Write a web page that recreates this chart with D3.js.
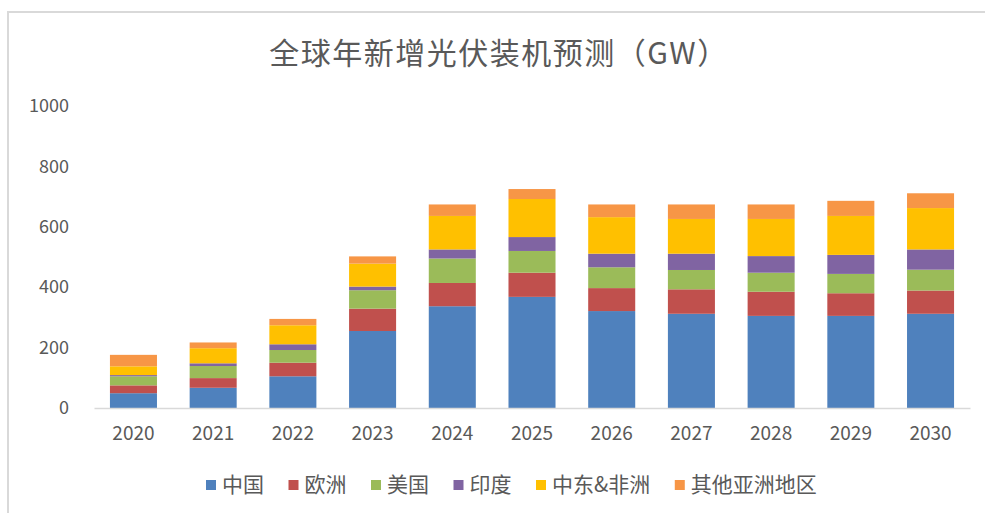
<!DOCTYPE html>
<html>
<head>
<meta charset="utf-8">
<script src="https://cdn.jsdelivr.net/npm/d3@7"></script>
<style>
  body { margin: 0; background: #fff; }
  text { font-family: "Noto Sans CJK SC", "Noto Sans", sans-serif; }
</style>
</head>
<body>
<div id="chart"></div>
<script>
// data (GW)
const years = ["2020", "2021", "2022", "2023", "2024", "2025", "2026", "2027", "2028", "2029", "2030"];
const regions = ["中国", "欧洲", "美国", "印度", "中东&非洲", "其他亚洲地区"];
const china    = [49, 67, 105, 255, 337, 368, 321, 312, 305, 305, 312];
const europe   = [26, 32, 45, 74, 77, 80, 76, 81, 80, 75, 77];
const usa      = [30, 40, 42, 61, 81, 72, 69, 64, 63, 64, 69];
const india    = [4, 9, 19, 12, 30, 46, 45, 54, 55, 63, 67];
const meAfrica = [29, 50, 63, 76, 111, 126, 121, 115, 123, 129, 137];
const otherAsia = [38, 19, 21, 24, 38, 33, 42, 48, 48, 50, 49];
const yTicks = [0, 200, 400, 600, 800, 1000];
const colors = ["#4F81BD", "#C0504D", "#9BBB59", "#8064A2", "#FFC000", "#F79646"];

const series = [china, europe, usa, india, meAfrica, otherAsia];
const table = years.map((y, i) => {
  const row = { year: y };
  regions.forEach((r, k) => row[r] = series[k][i]);
  return row;
});

const width = 985, height = 513;
const margin = { top: 106, bottom: 105, left: 94, right: 15 };

const svg = d3.select("#chart").append("svg")
  .attr("width", width)
  .attr("height", height);

// chart border (top and left visible)
svg.append("path")
  .attr("d", `M8,${height}V12H${width}`)
  .attr("fill", "none")
  .attr("stroke", "#d9d9d9")
  .attr("stroke-width", 2);

const x = d3.scaleBand()
  .domain(years)
  .range([margin.left, width - margin.right])
  .paddingInner(0.41)
  .paddingOuter(0.2);

const y = d3.scaleLinear()
  .domain([0, 1000])
  .range([408, 106]);

const color = d3.scaleOrdinal().domain(regions).range(colors);

const stack = d3.stack().keys(regions)(table);

svg.append("g")
  .selectAll("g")
  .data(stack)
  .join("g")
    .attr("fill", d => color(d.key))
  .selectAll("rect")
  .data(d => d)
  .join("rect")
    .attr("x", d => x(d.data.year))
    .attr("y", d => y(d[1]))
    .attr("width", x.bandwidth())
    .attr("height", d => y(d[0]) - y(d[1]));

// x axis
svg.append("g")
  .attr("transform", `translate(0,${y(0)})`)
  .call(d3.axisBottom(x).tickSize(0).tickPadding(19))
  .call(g => g.select(".domain").attr("stroke", "#d9d9d9").attr("stroke-width", 1.5))
  .call(g => g.selectAll("text")
    .attr("fill", "#595959")
    .attr("font-size", "19px")
    .attr("font-family", "'Noto Sans CJK SC', sans-serif"));

// y axis (labels only)
svg.append("g")
  .attr("transform", `translate(69,0)`)
  .call(d3.axisLeft(y).tickValues(yTicks).tickFormat(d3.format("d")).tickSize(0).tickPadding(0))
  .call(g => g.select(".domain").remove())
  .call(g => g.selectAll("text")
    .attr("fill", "#595959")
    .attr("font-size", "18px")
    .attr("font-family", "'Noto Sans CJK SC', sans-serif"));

// title
svg.append("text")
  .attr("x", 499)
  .attr("y", 53)
  .attr("text-anchor", "middle")
  .attr("dy", "0.35em")
  .attr("fill", "#595959")
  .attr("font-size", "30px")
  .attr("letter-spacing", "1.5px")
  .text("全球年新增光伏装机预测（GW）");

// legend
const legend = svg.append("g").attr("transform", "translate(206,485)");
let lx = 0;
regions.forEach(r => {
  const item = legend.append("g").attr("transform", `translate(${lx},0)`);
  item.append("rect")
    .attr("x", 0).attr("y", -5)
    .attr("width", 10).attr("height", 10)
    .attr("fill", color(r));
  const t = item.append("text")
    .attr("x", 16)
    .attr("dy", "0.35em")
    .attr("fill", "#595959")
    .attr("font-size", "21px")
    .text(r);
  lx += 16 + t.node().getComputedTextLength() + 24.5;
});
</script>
</body>
</html>
